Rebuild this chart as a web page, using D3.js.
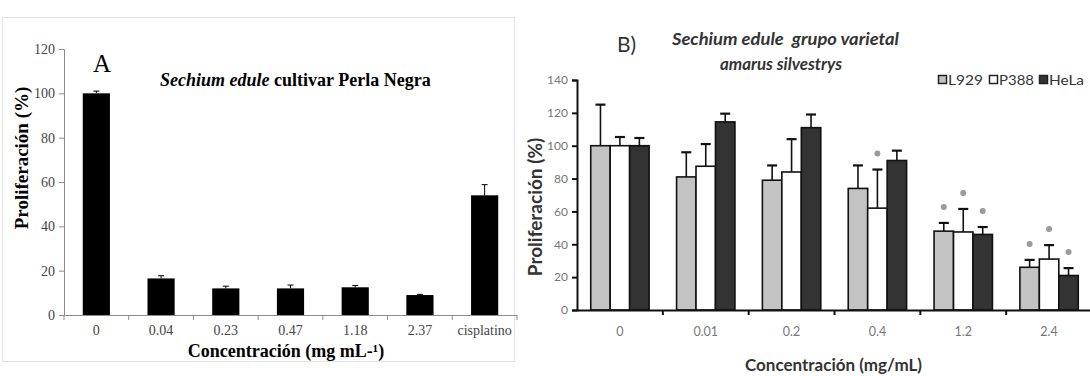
<!DOCTYPE html>
<html>
<head>
<meta charset="utf-8">
<script src="https://cdn.jsdelivr.net/npm/d3@7"></script>
<style>
  body { margin: 0; background: #fff; }
  svg { display: block; }
  .serif { font-family: "Liberation Serif", "Times New Roman", serif; }
  .sans { font-family: Lato, "Open Sans", sans-serif; }
</style>
</head>
<body>
<svg width="1090" height="376"></svg>
<script>
// Panel A data
const catsA = ['0', '0.04', '0.23', '0.47', '1.18', '2.37', 'cisplatino'];
const valsA = [100, 16.5, 12, 12, 12.5, 9, 54];
const errsA = [1, 1.2, 1, 1.5, 0.8, 0.3, 4.8];
const ticksA = [0, 20, 40, 60, 80, 100, 120];

// Panel B data
const groupsB = ['0', '0.01', '0.2', '0.4', '1.2', '2.4'];
const linesB = ['L929', 'P388', 'HeLa'];
const l929 = [100, 81, 79, 74, 48, 26];
const p388 = [100, 87.5, 84, 62, 47.5, 31];
const hela = [100, 114.5, 111, 91, 46, 21];
const l929Err = [25, 15, 9, 14, 5, 4.5];
const p388Err = [5.3, 13.5, 20, 23.5, 14, 8.5];
const helaErr = [4.7, 5, 8, 6, 4.5, 4.5];
const l929Sig = [0, 0, 0, 0, 1, 1];
const p388Sig = [0, 0, 0, 1, 1, 1];
const helaSig = [0, 0, 0, 0, 1, 1];
const ticksB = [0, 20, 40, 60, 80, 100, 120, 140];

const svg = d3.select('svg');

// ---------- Panel A ----------
const gA = svg.append('g').attr('class', 'serif');
gA.append('rect')
  .attr('x', 2.5).attr('y', 17.5).attr('width', 512).attr('height', 344)
  .attr('fill', 'none').attr('stroke', '#e4e4e4');

const xA = d3.scaleBand().domain(catsA).range([64, 517]);
const yA = d3.scaleLinear().domain([0, 120]).range([315, 49]);

const yAxA = gA.append('g')
  .attr('transform', 'translate(64,0)')
  .call(d3.axisLeft(yA).tickValues(ticksA).tickSize(5).tickPadding(4));
yAxA.selectAll('.domain, .tick line').attr('stroke', '#8c8c8c');
yAxA.selectAll('text').attr('font-size', 14).attr('fill', '#444')
  .attr('font-family', '"Liberation Serif", serif');

const xAxA = gA.append('g')
  .attr('transform', 'translate(0,315)')
  .call(d3.axisBottom(xA).tickSize(0).tickPadding(10));
xAxA.select('.domain').attr('stroke', '#8c8c8c');
xAxA.selectAll('text').attr('font-size', 14).attr('fill', '#444')
  .attr('font-family', '"Liberation Serif", serif');
gA.selectAll('.bnd').data(catsA.concat(['end'])).enter().append('line')
  .attr('x1', d => d === 'end' ? xA.range()[1] : xA(d))
  .attr('x2', d => d === 'end' ? xA.range()[1] : xA(d))
  .attr('y1', 315).attr('y2', 320)
  .attr('stroke', '#8c8c8c');

const bwA = xA.bandwidth() * 0.42;
gA.selectAll('.barA').data(catsA).enter().append('rect')
  .attr('x', d => xA(d) + (xA.bandwidth() - bwA) / 2)
  .attr('y', (d, i) => yA(valsA[i]))
  .attr('width', bwA)
  .attr('height', (d, i) => yA(0) - yA(valsA[i]))
  .attr('fill', '#000');
catsA.forEach((c, i) => {
  const cx = xA(c) + xA.bandwidth() / 2;
  gA.append('line').attr('x1', cx).attr('x2', cx)
    .attr('y1', yA(valsA[i])).attr('y2', yA(valsA[i] + errsA[i]))
    .attr('stroke', '#000').attr('stroke-width', 1);
  gA.append('line').attr('x1', cx - 3).attr('x2', cx + 3)
    .attr('y1', yA(valsA[i] + errsA[i])).attr('y2', yA(valsA[i] + errsA[i]))
    .attr('stroke', '#000').attr('stroke-width', 1);
});

gA.append('text').attr('x', 102).attr('y', 72).attr('text-anchor', 'middle')
  .attr('font-size', 25).text('A');
const tA = gA.append('text').attr('x', 160).attr('y', 86)
  .attr('font-size', 18).attr('font-weight', 'bold');
tA.append('tspan').attr('font-style', 'italic').text('Sechium edule');
tA.append('tspan').text(' cultivar Perla Negra');

gA.append('text')
  .attr('transform', 'translate(28,158) rotate(-90)')
  .attr('text-anchor', 'middle').attr('font-size', 19).attr('font-weight', 'bold')
  .text('Proliferación (%)');
gA.append('text').attr('x', 286).attr('y', 357).attr('text-anchor', 'middle')
  .attr('font-size', 18).attr('font-weight', 'bold')
  .text('Concentración (mg mL-¹)');

// ---------- Panel B ----------
const gB = svg.append('g').attr('class', 'sans');
const x0 = d3.scaleBand().domain(groupsB).range([577, 1092]);
const inner = x0.bandwidth() * 0.68;
const x1 = d3.scaleBand().domain(linesB).range([0, inner]);
const yB = d3.scaleLinear().domain([0, 140]).range([310, 80]);

const seriesB = [
  { name: 'L929', vals: l929, errs: l929Err, sig: l929Sig, fill: '#c3c3c3' },
  { name: 'P388', vals: p388, errs: p388Err, sig: p388Sig, fill: '#ffffff' },
  { name: 'HeLa', vals: hela, errs: helaErr, sig: helaSig, fill: '#333333' }
];

seriesB.forEach(s => {
  groupsB.forEach((g, i) => {
    const bx = x0(g) + (x0.bandwidth() - inner) / 2 + x1(s.name);
    const cx = bx + x1.bandwidth() / 2;
    const top = yB(s.vals[i] + s.errs[i]);
    gB.append('line').attr('x1', cx).attr('x2', cx)
      .attr('y1', yB(s.vals[i])).attr('y2', top)
      .attr('stroke', '#111').attr('stroke-width', 1.6);
    gB.append('line').attr('x1', cx - 5).attr('x2', cx + 5)
      .attr('y1', top).attr('y2', top)
      .attr('stroke', '#111').attr('stroke-width', 2.2);
    gB.append('rect')
      .attr('x', bx).attr('y', yB(s.vals[i]))
      .attr('width', x1.bandwidth()).attr('height', yB(0) - yB(s.vals[i]))
      .attr('fill', s.fill).attr('stroke', '#111').attr('stroke-width', 1.6);
    if (s.sig[i]) {
      gB.append('circle').attr('cx', cx).attr('cy', top - 16).attr('r', 3)
        .attr('fill', '#9a9a9a');
    }
  });
});

const yAxB = gB.append('g')
  .attr('transform', 'translate(577,0)')
  .call(d3.axisLeft(yB).tickValues(ticksB).tickSize(5).tickPadding(4));
yAxB.select('.domain').attr('stroke', '#111').attr('stroke-width', 2);
yAxB.selectAll('.tick line').attr('stroke', '#111').attr('stroke-width', 2);
yAxB.selectAll('text').attr('font-size', 12).attr('fill', '#777')
  .attr('font-family', 'Lato, sans-serif');

const xAxB = gB.append('g')
  .attr('transform', 'translate(0,310)')
  .call(d3.axisBottom(x0).tickSize(0).tickPadding(17));
xAxB.select('.domain').attr('stroke', '#111').attr('stroke-width', 2);
xAxB.selectAll('text').attr('font-size', 12.5).attr('fill', '#777')
  .attr('font-family', 'Lato, sans-serif');
gB.selectAll('.bndB').data(groupsB.slice(1)).enter().append('line')
  .attr('x1', d => x0(d)).attr('x2', d => x0(d))
  .attr('y1', 310).attr('y2', 315)
  .attr('stroke', '#111').attr('stroke-width', 2);

gB.append('text').attr('x', 617).attr('y', 52)
  .attr('font-size', 21).attr('fill', '#333').text('B)');
gB.append('text').attr('x', 672).attr('y', 45)
  .attr('font-size', 17).attr('font-weight', 'bold').attr('font-style', 'italic')
  .attr('fill', '#333').attr('xml:space', 'preserve')
  .attr('textLength', 227).attr('lengthAdjust', 'spacingAndGlyphs')
  .text('Sechium edule  grupo varietal');
gB.append('text').attr('x', 720).attr('y', 70)
  .attr('font-size', 17).attr('font-weight', 'bold').attr('font-style', 'italic')
  .attr('fill', '#333')
  .attr('textLength', 122).attr('lengthAdjust', 'spacingAndGlyphs')
  .text('amarus silvestrys');

gB.append('text')
  .attr('transform', 'translate(542,207) rotate(-90)')
  .attr('text-anchor', 'middle').attr('font-size', 19).attr('font-weight', 'bold')
  .attr('fill', '#333').text('Proliferación (%)');
gB.append('text').attr('x', 745).attr('y', 371)
  .attr('font-size', 17).attr('font-weight', 'bold').attr('fill', '#333')
  .text('Concentración (mg/mL)');

// legend
const legX = [938, 989, 1039];
seriesB.forEach((s, i) => {
  gB.append('rect').attr('x', legX[i] + 0.5).attr('y', 75.5)
    .attr('width', 8).attr('height', 8)
    .attr('fill', s.fill).attr('stroke', '#222').attr('stroke-width', 1.5);
  gB.append('text').attr('x', legX[i] + 10).attr('y', 84.5)
    .attr('font-size', 14).attr('fill', '#333')
    .attr('textLength', 35).attr('lengthAdjust', 'spacingAndGlyphs')
    .text(s.name);
});
</script>
</body>
</html>
